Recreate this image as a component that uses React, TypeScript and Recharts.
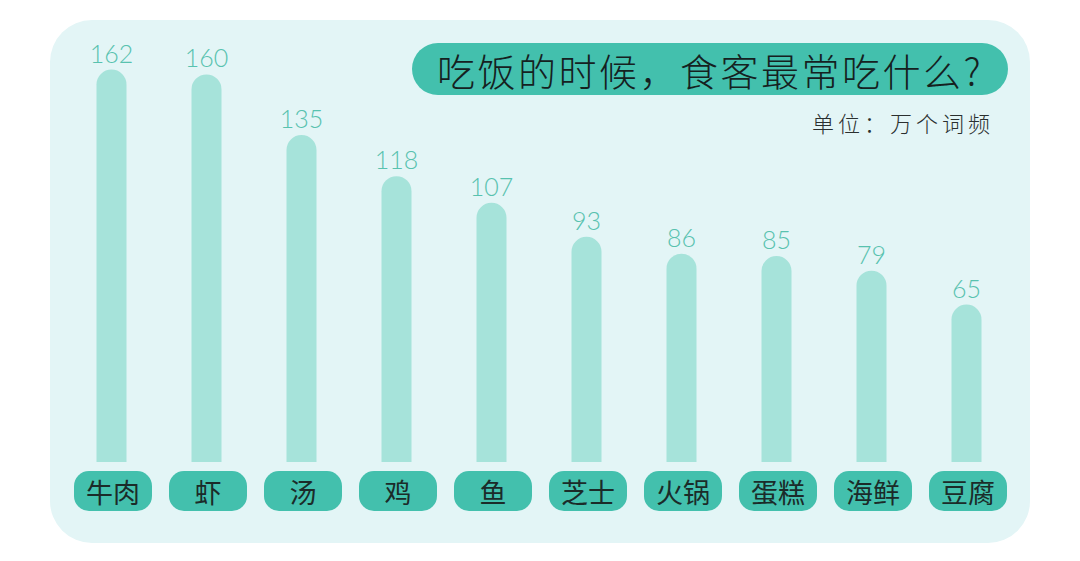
import React from 'react';
import { BarChart, Bar, XAxis, YAxis, LabelList } from 'recharts';

// 食物类别
const categories = ['牛肉', '虾', '汤', '鸡', '鱼', '芝士', '火锅', '蛋糕', '海鲜', '豆腐'];
// 单位：万个词频
const counts = [162, 160, 135, 118, 107, 93, 86, 85, 79, 65];

const TITLE = '吃饭的时候，食客最常吃什么?';
const UNIT = '单位：万个词频';

const PANEL_BG = '#e3f5f6';
const BAR_COLOR = '#a6e3da';
const PILL_COLOR = '#43c0ad';
const LABEL_COLOR = '#58c2af';
const CJK_FONT = '"Noto Sans CJK SC", "Noto Sans", sans-serif';

const data = categories.map((name, i) => ({ name, value: counts[i] }));

const PillTick = (props: any) => {
  const { x, y, payload } = props;
  const w = 78;
  const h = 40;
  return (
    <g transform={`translate(${x + 2},${y})`}>
      <rect x={-w / 2} y={1} width={w} height={h} rx={15} ry={15} fill={PILL_COLOR} />
      <text
        x={0}
        y={1 + h / 2}
        textAnchor="middle"
        dominantBaseline="central"
        fontFamily={CJK_FONT}
        fontSize={27}
        fill="#1b2b29"
      >
        {payload.value}
      </text>
    </g>
  );
};

export default function App() {
  return (
    <div
      style={{
        position: 'absolute',
        left: 0,
        top: 0,
        width: 1080,
        height: 561,
        background: '#ffffff',
        overflow: 'hidden',
      }}
    >
      <div
        style={{
          position: 'absolute',
          left: 50,
          top: 20,
          width: 980,
          height: 523,
          borderRadius: 42,
          background: PANEL_BG,
        }}
      />
      <div
        style={{
          position: 'absolute',
          left: 412,
          top: 43,
          width: 596,
          height: 52,
          borderRadius: 26,
          background: PILL_COLOR,
          display: 'flex',
          alignItems: 'center',
          justifyContent: 'center',
          fontFamily: CJK_FONT,
          fontSize: 38,
          fontWeight: 300,
          letterSpacing: 2.5,
          color: '#15211f',
          whiteSpace: 'nowrap',
        }}
      >
        {TITLE}
      </div>
      <div
        style={{
          position: 'absolute',
          right: 86,
          top: 106,
          fontFamily: CJK_FONT,
          fontSize: 22,
          fontWeight: 300,
          letterSpacing: 4,
          color: '#2a2f2f',
          whiteSpace: 'nowrap',
        }}
      >
        {UNIT}
      </div>
      <div style={{ position: 'absolute', left: 0, top: 0 }}>
        <BarChart
          width={1080}
          height={561}
          data={data}
          margin={{ top: 26, right: 66.5, bottom: 0, left: 63.5 }}
          barCategoryGap={0}
        >
          <XAxis
            dataKey="name"
            axisLine={false}
            tickLine={false}
            interval={0}
            tick={<PillTick />}
            height={99}
          />
          <YAxis hide domain={[0, 180]} />
          <Bar
            dataKey="value"
            fill={BAR_COLOR}
            barSize={30}
            radius={[15, 15, 0, 0]}
            isAnimationActive={false}
          >
            <LabelList
              dataKey="value"
              position="top"
              offset={7}
              fill={LABEL_COLOR}
              fontFamily="Lato, sans-serif"
              fontWeight={300}
              fontSize={25}
            />
          </Bar>
        </BarChart>
      </div>
    </div>
  );
}
